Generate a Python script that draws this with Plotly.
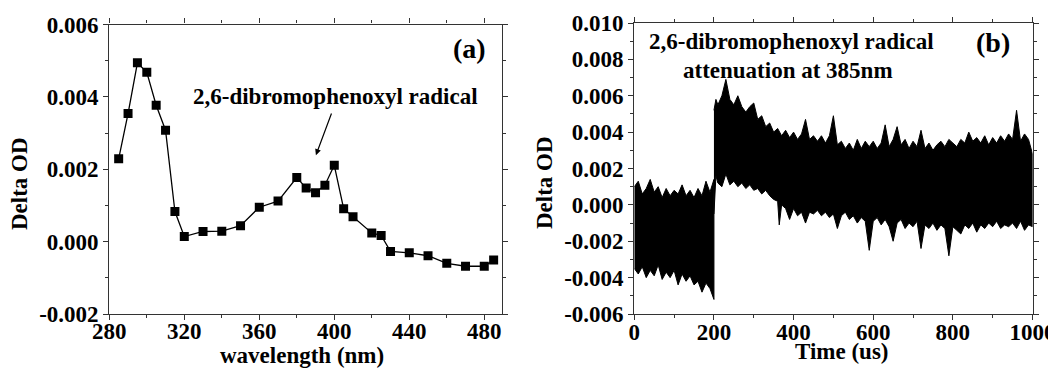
import plotly.graph_objects as go

# ---------------- Panel (a) data ----------------
wavelength = [285, 290, 295, 300, 305, 310, 315, 320, 330, 340, 350, 360, 370, 380, 385,
              390, 395, 400, 405, 410, 420, 425, 430, 440, 450, 460, 470, 480, 485]
delta_od_a = [0.00229, 0.00354, 0.00494, 0.00468, 0.00377, 0.00308, 0.00083, 0.00014,
              0.00028, 0.00029, 0.00044, 0.00095, 0.00112, 0.00177, 0.00148, 0.00135,
              0.00156, 0.00211, 0.00091, 0.00069, 0.00024, 0.00017, -0.00027, -0.00031,
              -0.00039, -0.00060, -0.00068, -0.00068, -0.00051]

# ---------------- Panel (b) data: envelope of the noisy trace ----
pre_time = [0, 10, 20, 30, 40, 50, 60, 70, 80, 90, 100, 110, 120, 130, 140, 150, 160,
            170, 180, 190, 200]
pre_upper = [0.0010, 0.0013, 0.0006, 0.0009, 0.0014, 0.0007, 0.0010, 0.0004, 0.0009,
             0.0005, 0.0008, 0.0006, 0.0011, 0.0005, 0.0008, 0.0004, 0.0009, 0.0005,
             0.0013, 0.0007, 0.0014]
pre_lower = [-0.0035, -0.0038, -0.0034, -0.0040, -0.0036, -0.0039, -0.0033, -0.0041,
             -0.0037, -0.0040, -0.0036, -0.0044, -0.0038, -0.0042, -0.0039, -0.0044,
             -0.0042, -0.0048, -0.0043, -0.0046, -0.0052]

post_time_upper = [200, 205, 210, 220, 230, 240, 250, 260, 270, 280, 290, 300, 310, 320,
                   330, 340, 350, 360, 370, 380, 390, 400, 410, 420, 430, 440, 450, 460,
                   470, 480, 490, 500, 510, 520, 530, 540, 550, 560, 570, 580, 590, 600,
                   610, 620, 630, 640, 650, 660, 670, 680, 690, 700, 710, 720, 730, 740,
                   750, 760, 770, 780, 790, 800, 810, 820, 830, 840, 850, 860, 870, 880,
                   890, 900, 910, 920, 930, 940, 950, 960, 970, 980, 990, 1000]
post_upper = [0.0052, 0.0058, 0.0055, 0.0060, 0.0069, 0.0058, 0.0055, 0.0060, 0.0054,
              0.0051, 0.0054, 0.0056, 0.0047, 0.0049, 0.0043, 0.0045, 0.0040, 0.0042,
              0.0038, 0.0041, 0.0037, 0.0040, 0.0036, 0.0039, 0.0047, 0.0036, 0.0038,
              0.0035, 0.0038, 0.0034, 0.0038, 0.0049, 0.0033, 0.0035, 0.0031, 0.0034,
              0.0030, 0.0036, 0.0031, 0.0035, 0.0032, 0.0035, 0.0031, 0.0034, 0.0044,
              0.0032, 0.0036, 0.0043, 0.0033, 0.0036, 0.0031, 0.0035, 0.0032, 0.0041,
              0.0031, 0.0034, 0.0030, 0.0033, 0.0035, 0.0032, 0.0036, 0.0034, 0.0032,
              0.0036, 0.0034, 0.0040, 0.0035, 0.0037, 0.0034, 0.0038, 0.0033, 0.0037,
              0.0034, 0.0038, 0.0035, 0.0039, 0.0036, 0.0052, 0.0035, 0.0039, 0.0036,
              0.0028]
post_time_lower = [200, 205, 210, 220, 230, 240, 250, 260, 270, 280, 290, 300, 310, 320,
                   330, 340, 350, 360, 364, 370, 380, 390, 400, 410, 420, 430, 440, 450,
                   460, 470, 480, 490, 500, 510, 520, 530, 540, 550, 560, 570, 580, 590,
                   600, 610, 620, 630, 640, 650, 660, 670, 680, 690, 700, 710, 720, 730,
                   740, 750, 760, 770, 780, 790, 800, 810, 820, 830, 840, 850, 860, 870,
                   880, 890, 900, 910, 920, 930, 940, 950, 960, 970, 980, 990, 1000]
post_lower = [-0.0005, 0.0016, 0.0012, 0.0010, 0.0017, 0.0011, 0.0013, 0.0010, 0.0012,
              0.0009, 0.0011, 0.0008, 0.0009, 0.0006, 0.0008, 0.0005, 0.0003, 0.0002,
              -0.0011, 0.0000, -0.0002, -0.0008, -0.0002, -0.0006, -0.0004, -0.0010,
              -0.0004, -0.0005, -0.0003, -0.0006, -0.0004, -0.0007, -0.0005, -0.0013,
              -0.0006, -0.0004, -0.0008, -0.0006, -0.0010, -0.0007, -0.0009, -0.0025,
              -0.0009, -0.0007, -0.0011, -0.0008, -0.0012, -0.0020, -0.0010, -0.0008,
              -0.0013, -0.0010, -0.0012, -0.0009, -0.0024, -0.0011, -0.0013, -0.0010,
              -0.0014, -0.0011, -0.0013, -0.0028, -0.0012, -0.0014, -0.0016, -0.0011,
              -0.0013, -0.0010, -0.0015, -0.0011, -0.0013, -0.0010, -0.0012, -0.0009,
              -0.0013, -0.0011, -0.0012, -0.0010, -0.0013, -0.0009, -0.0014, -0.0011,
              -0.0012]

# ---------------- tick labels ----------------
xa_ticks = [280, 320, 360, 400, 440, 480]
ya_ticks = [-0.002, 0.000, 0.002, 0.004, 0.006]
ya_labels = ["-0.002", "0.000", "0.002", "0.004", "0.006"]
xb_ticks = [0, 200, 400, 600, 800, 1000]
yb_ticks = [-0.006, -0.004, -0.002, 0.000, 0.002, 0.004, 0.006, 0.008, 0.010]
yb_labels = ["-0.006", "-0.004", "-0.002", "0.000", "0.002", "0.004", "0.006", "0.008", "0.010"]

FONT = "Liberation Serif"
W, H = 1048, 373
FS = 23

fig = go.Figure()

fig.add_trace(go.Scatter(
    x=wavelength, y=delta_od_a, mode="lines+markers",
    line=dict(color="black", width=1.3),
    marker=dict(symbol="square", size=9, color="black"),
    xaxis="x", yaxis="y", showlegend=False))

# noisy trace drawn as filled envelopes
fig.add_trace(go.Scatter(
    x=pre_time + pre_time[::-1], y=pre_upper + pre_lower[::-1],
    fill="toself", fillcolor="black", mode="lines",
    line=dict(color="black", width=1), xaxis="x2", yaxis="y2", showlegend=False))
fig.add_trace(go.Scatter(
    x=post_time_upper + post_time_lower[::-1], y=post_upper + post_lower[::-1],
    fill="toself", fillcolor="black", mode="lines",
    line=dict(color="black", width=1), xaxis="x2", yaxis="y2", showlegend=False))

axis_common = dict(
    showline=True, linecolor="#333", linewidth=1.3, mirror="ticks",
    ticks="outside", ticklen=5, tickwidth=1.2, tickcolor="#333",
    showgrid=False, zeroline=False, automargin=False, ticklabeloverflow="allow",
    tickfont=dict(family=FONT, size=FS, color="black", weight="bold"),
)

fig.update_layout(
    width=W, height=H, margin=dict(l=0, r=0, t=0, b=0, autoexpand=False),
    paper_bgcolor="white", plot_bgcolor="white",
    xaxis=dict(domain=[109.3 / W, 501.7 / W], range=[280, 489.3],
               tickvals=xa_ticks, ticklabelstandoff=-9,
               minor=dict(dtick=20, tick0=280, ticks="outside", ticklen=3, tickcolor="#333"),
               anchor="y", **axis_common),
    yaxis=dict(domain=[1 - 314 / H, 1 - 24.5 / H], range=[-0.002, 0.006],
               tickvals=ya_ticks, ticktext=ya_labels,
               minor=dict(dtick=0.001, tick0=0, ticks="outside", ticklen=3, tickcolor="#333"),
               anchor="x", **axis_common),
    xaxis2=dict(domain=[634.3 / W, 1032.5 / W], range=[0, 1000],
                tickvals=xb_ticks, ticklabelstandoff=-8,
                minor=dict(dtick=100, tick0=0, ticks="outside", ticklen=3, tickcolor="#333"),
                anchor="y2", **axis_common),
    yaxis2=dict(domain=[1 - 314 / H, 1 - 23 / H], range=[-0.006, 0.010],
                tickvals=yb_ticks, ticktext=yb_labels,
                minor=dict(dtick=0.001, tick0=0, ticks="outside", ticklen=3, tickcolor="#333"),
                anchor="x2", **axis_common),
)

tfont = dict(family=FONT, size=FS, color="black", weight="bold")

annos = [
    # axis titles
    dict(text="wavelength (nm)", x=302 / W, y=1 - 355 / H, xref="paper", yref="paper",
         showarrow=False, font=tfont, xanchor="center", yanchor="middle"),
    dict(text="Delta OD", x=19 / W, y=1 - 184 / H, xref="paper", yref="paper",
         showarrow=False, font=tfont, textangle=-90, xanchor="center", yanchor="middle"),
    dict(text="Time (us)", x=842 / W, y=1 - 351 / H, xref="paper", yref="paper",
         showarrow=False, font=tfont, xanchor="center", yanchor="middle"),
    dict(text="Delta OD", x=544 / W, y=1 - 183 / H, xref="paper", yref="paper",
         showarrow=False, font=tfont, textangle=-90, xanchor="center", yanchor="middle"),
    # panel labels
    dict(text="(a)", x=469 / W, y=1 - 49 / H, xref="paper", yref="paper",
         showarrow=False, font=dict(family=FONT, size=28, color="black", weight="bold"),
         xanchor="center", yanchor="middle"),
    dict(text="(b)", x=993 / W, y=1 - 43 / H, xref="paper", yref="paper",
         showarrow=False, font=dict(family=FONT, size=28, color="black", weight="bold"),
         xanchor="center", yanchor="middle"),
    # panel (a) label + arrow
    dict(text="2,6-dibromophenoxyl radical", x=335 / W, y=1 - 97 / H, xref="paper", yref="paper",
         showarrow=False, font=tfont, xanchor="center", yanchor="middle"),
    dict(text="", x=390.2, y=0.00239, xref="x", yref="y", ax=398.8, ay=0.00358,
         axref="x", ayref="y", showarrow=True, arrowhead=2, arrowsize=1, arrowwidth=1.2,
         arrowcolor="black"),
    # panel (b) text
    dict(text="2,6-dibromophenoxyl radical", x=791 / W, y=1 - 42 / H, xref="paper", yref="paper",
         showarrow=False, font=tfont, xanchor="center", yanchor="middle"),
    dict(text="attenuation at 385nm", x=788 / W, y=1 - 70 / H, xref="paper", yref="paper",
         showarrow=False, font=tfont, xanchor="center", yanchor="middle"),
]
fig.update_layout(annotations=annos)

fig.write_html("out.html")
